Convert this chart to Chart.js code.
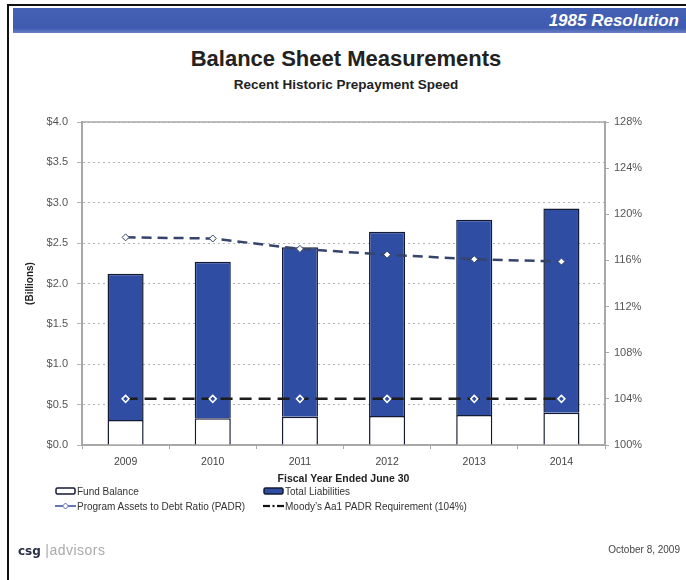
<!DOCTYPE html>
<html>
<head>
<meta charset="utf-8">
<script src="https://cdn.jsdelivr.net/npm/chart.js@4.4.1/dist/chart.umd.min.js"></script>
<style>
  body { margin: 0; background: #fff; font-family: "Liberation Sans", Arial, sans-serif; }
  #page { position: relative; width: 686px; height: 580px; overflow: hidden; background: #fff; }
  #frameTop { position: absolute; left: 7px; top: 4px; width: 679px; height: 2px; background: #111; }
  #frameLeft { position: absolute; left: 7px; top: 4px; width: 2px; height: 576px; background: #111; }
  #band { position: absolute; left: 13px; top: 8px; width: 673px; height: 25px;
          background: linear-gradient(#4561b6, #3f5bb0 80%, #6a80c4); }
  #band span { position: absolute; right: 7px; top: 3px; color: #fff; font-weight: bold;
               font-style: italic; font-size: 17px; }
  #title { position: absolute; left: 3px; width: 686px; top: 46px; text-align: center;
           font-size: 22px; font-weight: bold; color: #222; }
  #subtitle { position: absolute; left: 3px; width: 686px; top: 77px; text-align: center;
              font-size: 13.5px; font-weight: bold; color: #222; }
  #myChart { position: absolute; left: 0; top: 0; }
  .lg { position: absolute; font-size: 10px; color: #333; white-space: nowrap; line-height: 12px; }
  .lg svg { vertical-align: middle; margin-right: 1px; margin-top: -2px; }
  #csg { position: absolute; left: 18px; top: 542px; font-size: 14px; }
  #csg b { color: #2a2f4a; font-family: "DejaVu Sans", sans-serif; font-size: 12px; }
  #csg span { color: #aaa; letter-spacing: 0.5px; }
  #date { position: absolute; right: 6px; top: 544px; font-size: 10px; color: #444; }
</style>
</head>
<body>
<div id="page">
  <div id="frameTop"></div>
  <div id="frameLeft"></div>
  <div id="band"><span>1985 Resolution</span></div>
  <div id="title">Balance Sheet Measurements</div>
  <div id="subtitle">Recent Historic Prepayment Speed</div>
  <canvas id="myChart" width="686" height="580"></canvas>
  <div id="legend"></div>
  <div id="csg"><b>csg</b><span> |advisors</span></div>
  <div id="date">October 8, 2009</div>
</div>
<script>
// fiscal years and balances (billions)
const years = ['2009', '2010', '2011', '2012', '2013', '2014'];
const fundBalance = [0.31, 0.33, 0.35, 0.36, 0.37, 0.40];
const totalLiabilities = [1.81, 1.94, 2.10, 2.28, 2.42, 2.53];
// ratios in percent
const padr = [118.0, 117.9, 117.0, 116.5, 116.1, 115.9];
const moodysReq = [104, 104, 104, 104, 104, 104];

const axisGray = '#a8a8a8';
const barBlue = '#2e4da3';
const barEdge = '#151a33';

// draws the solid line along the top of the plot
const topLine = {
    id: 'topLine',
    afterDraw(chart) {
        const { ctx, chartArea } = chart;
        ctx.save();
        ctx.strokeStyle = axisGray;
        ctx.lineWidth = 1.5;
        ctx.beginPath();
        ctx.moveTo(chartArea.left, chartArea.top);
        ctx.lineTo(chartArea.right, chartArea.top);
        ctx.stroke();
        ctx.restore();
    }
};

const data = {
    labels: years,
    datasets: [{
        label: 'Fund Balance',
        type: 'bar',
        data: fundBalance,
        backgroundColor: '#ffffff',
        borderColor: barEdge,
        borderWidth: 1.5,
        yAxisID: 'y',
        order: 1
    }, {
        label: 'Total Liabilities',
        type: 'bar',
        data: totalLiabilities,
        backgroundColor: barBlue,
        borderColor: barEdge,
        borderWidth: 1.5,
        yAxisID: 'y',
        order: 1
    }, {
        label: 'Program Assets to Debt Ratio (PADR)',
        type: 'line',
        data: padr,
        borderColor: '#35446a',
        borderWidth: 2.5,
        borderDash: [10, 6],
        pointStyle: 'rectRot',
        pointRadius: 3.5,
        pointBackgroundColor: '#ffffff',
        pointBorderColor: '#35446a',
        pointBorderWidth: 1,
        yAxisID: 'y2',
        order: 0
    }, {
        label: 'Moody\u2019s Aa1 PADR Requirement (104%)',
        type: 'line',
        data: moodysReq,
        borderColor: '#1c1c1c',
        borderWidth: 2.5,
        borderDash: [12, 7],
        pointStyle: 'rectRot',
        pointRadius: 3.5,
        pointBackgroundColor: barBlue,
        pointBorderColor: '#ffffff',
        pointBorderWidth: 1.5,
        yAxisID: 'y2',
        order: 0
    }]
};

const tickFont = { family: '"Liberation Sans", Arial, sans-serif', size: 11 };

const config = {
    data: data,
    options: {
        responsive: false,
        animation: false,
        events: [],
        layout: { padding: { left: 20, right: 0, top: 122, bottom: 95 } },
        datasets: { bar: { barPercentage: 0.414, categoryPercentage: 1 } },
        plugins: { legend: { display: false }, tooltip: { enabled: false } },
        scales: {
            x: {
                stacked: true,
                afterFit: (s) => { s.height = 40; },
                grid: { drawOnChartArea: false, tickLength: 4, color: axisGray, offset: true },
                border: { color: axisGray, width: 2 },
                ticks: { color: '#444', font: { family: tickFont.family, size: 10.5 }, padding: 7 },
                title: {
                    display: true, text: 'Fiscal Year Ended June 30', color: '#222',
                    font: { family: tickFont.family, size: 10.5, weight: 'bold' },
                    padding: { top: 0, bottom: 0 }
                }
            },
            y: {
                stacked: true,
                min: 0, max: 4,
                afterFit: (s) => { s.width = 62; },
                grid: { color: '#b4b4b4', lineWidth: 1, tickLength: 5, tickColor: '#b4b4b4' },
                border: { color: axisGray, width: 2, dash: [2, 3] },
                ticks: {
                    stepSize: 0.5, color: '#555', font: tickFont, padding: 9,
                    callback: (v) => '$' + v.toFixed(1)
                },
                title: {
                    display: true, text: '(Billions)', color: '#222',
                    font: { family: tickFont.family, size: 10, weight: 'bold' },
                    padding: { top: 4, bottom: 0 }
                }
            },
            y2: {
                position: 'right',
                min: 100, max: 128,
                afterFit: (s) => { s.width = 81; },
                grid: { drawOnChartArea: false, tickLength: 4, color: axisGray },
                border: { color: axisGray, width: 2 },
                ticks: {
                    stepSize: 4, color: '#555', font: tickFont, padding: 5,
                    callback: (v) => v + '%'
                }
            }
        }
    },
    plugins: [topLine]
};

const myChart = new Chart(document.getElementById('myChart'), config);

// legend, two columns by two rows
function legendIcon(ds) {
    if (ds.type === 'bar') {
        return `<svg width="21" height="8"><rect x="1" y="1" width="19" height="6" rx="1.5"
            fill="${ds.backgroundColor}" stroke="${ds.borderColor}" stroke-width="1.5"/></svg>`;
    }
    if (ds.pointBackgroundColor === '#ffffff') {
        return `<svg width="21" height="8"><line x1="0" y1="4" x2="21" y2="4" stroke="#5468ad" stroke-width="1.8"/>
            <path d="M10.5 1 L13.5 4 L10.5 7 L7.5 4 Z" fill="#fff" stroke="#5468ad" stroke-width="1"/></svg>`;
    }
    return `<svg width="21" height="8"><line x1="0" y1="4" x2="7" y2="4" stroke="#111" stroke-width="2.2"/>
        <line x1="9.5" y1="4" x2="11.5" y2="4" stroke="#111" stroke-width="2.2"/>
        <line x1="14" y1="4" x2="21" y2="4" stroke="#111" stroke-width="2.2"/></svg>`;
}

const slots = [[55, 486], [263, 486], [55, 501], [263, 501]];
const legendEl = document.getElementById('legend');
myChart.data.datasets.forEach((ds, i) => {
    const item = document.createElement('div');
    item.className = 'lg';
    item.style.left = slots[i][0] + 'px';
    item.style.top = slots[i][1] + 'px';
    item.innerHTML = legendIcon(ds) + ds.label;
    legendEl.appendChild(item);
});
</script>
</body>
</html>
